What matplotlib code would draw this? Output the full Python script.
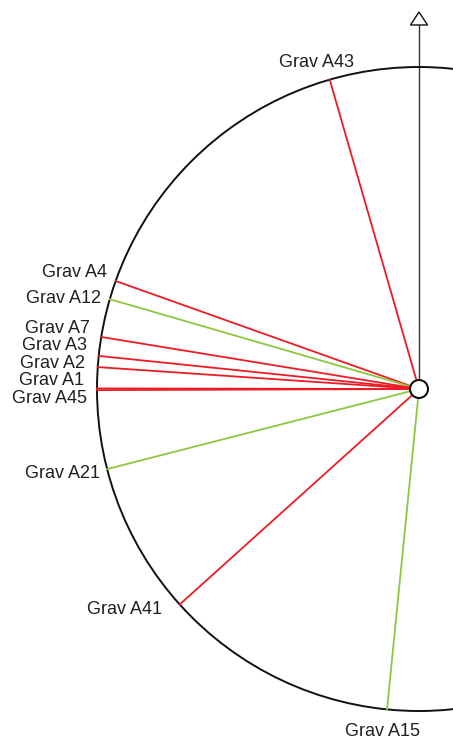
import numpy as np
import matplotlib
matplotlib.use('Agg')
import matplotlib.pyplot as plt
from matplotlib.patches import Circle, Polygon

plt.rcParams['font.family'] = ['Liberation Sans', 'DejaVu Sans']

# grave orientations, bearing in degrees clockwise from north
graves = ['Grav A43', 'Grav A4', 'Grav A12', 'Grav A7', 'Grav A3', 'Grav A2',
          'Grav A1', 'Grav A45', 'Grav A21', 'Grav A41', 'Grav A15']
bearing = [343.9, 289.6, 286.2, 279.3, 275.9, 273.9, 270.1, 269.8, 255.6, 228.0, 185.7]
group = ['red', 'red', 'green', 'red', 'red', 'red', 'red', 'red', 'green', 'red', 'green']

colors = {'red': '#ed1c24', 'green': '#8dc63f'}
# label offsets in pixels from the line end (dx, dy, ha)
offsets = [(-13, 17, 'center'), (-9, 8, 'right'), (-9, 1, 'right'), (-11, 8, 'right'),
           (-12, 10, 'right'), (-13, 4, 'right'), (-13, 8, 'right'), (-10, -8, 'right'),
           (-7, -4, 'right'), (-18, -5, 'right'), (-5, -22, 'center')]

R = 322.0
fig = plt.figure(figsize=(4.53, 7.43), dpi=100)
ax = fig.add_axes([0, 0, 1, 1])
ax.set_xlim(-419 / R, 34 / R)
ax.set_ylim(-354 / R, 389 / R)
ax.set_aspect('equal')
ax.axis('off')

ax.add_patch(Circle((0, 0), 1, fill=False, ec='#111111', lw=1.4, zorder=2))

# north arrow
ax.plot([0, 0], [0, 364 / R], color='#333333', lw=1.0, zorder=1)
ax.add_patch(Polygon([(-8.5 / R, 364 / R), (8.5 / R, 364 / R), (0, 377 / R)],
                     closed=True, fc='white', ec='#111111', lw=1.0, zorder=3))

for name, b, g, (dx, dy, ha) in zip(graves, bearing, group, offsets):
    t = np.radians(b)
    x, y = np.sin(t), np.cos(t)
    ax.plot([0, x], [0, y], color=colors[g], lw=1.3, zorder=3)
    ax.annotate(name, (x, y), xytext=(dx, dy), textcoords='offset pixels',
                ha=ha, va='center', fontsize=13, color='#231f20')

ax.add_patch(Circle((0, 0), 9 / R, fc='white', ec='#111111', lw=1.5, zorder=5))

fig.savefig('out.png', dpi=100)
